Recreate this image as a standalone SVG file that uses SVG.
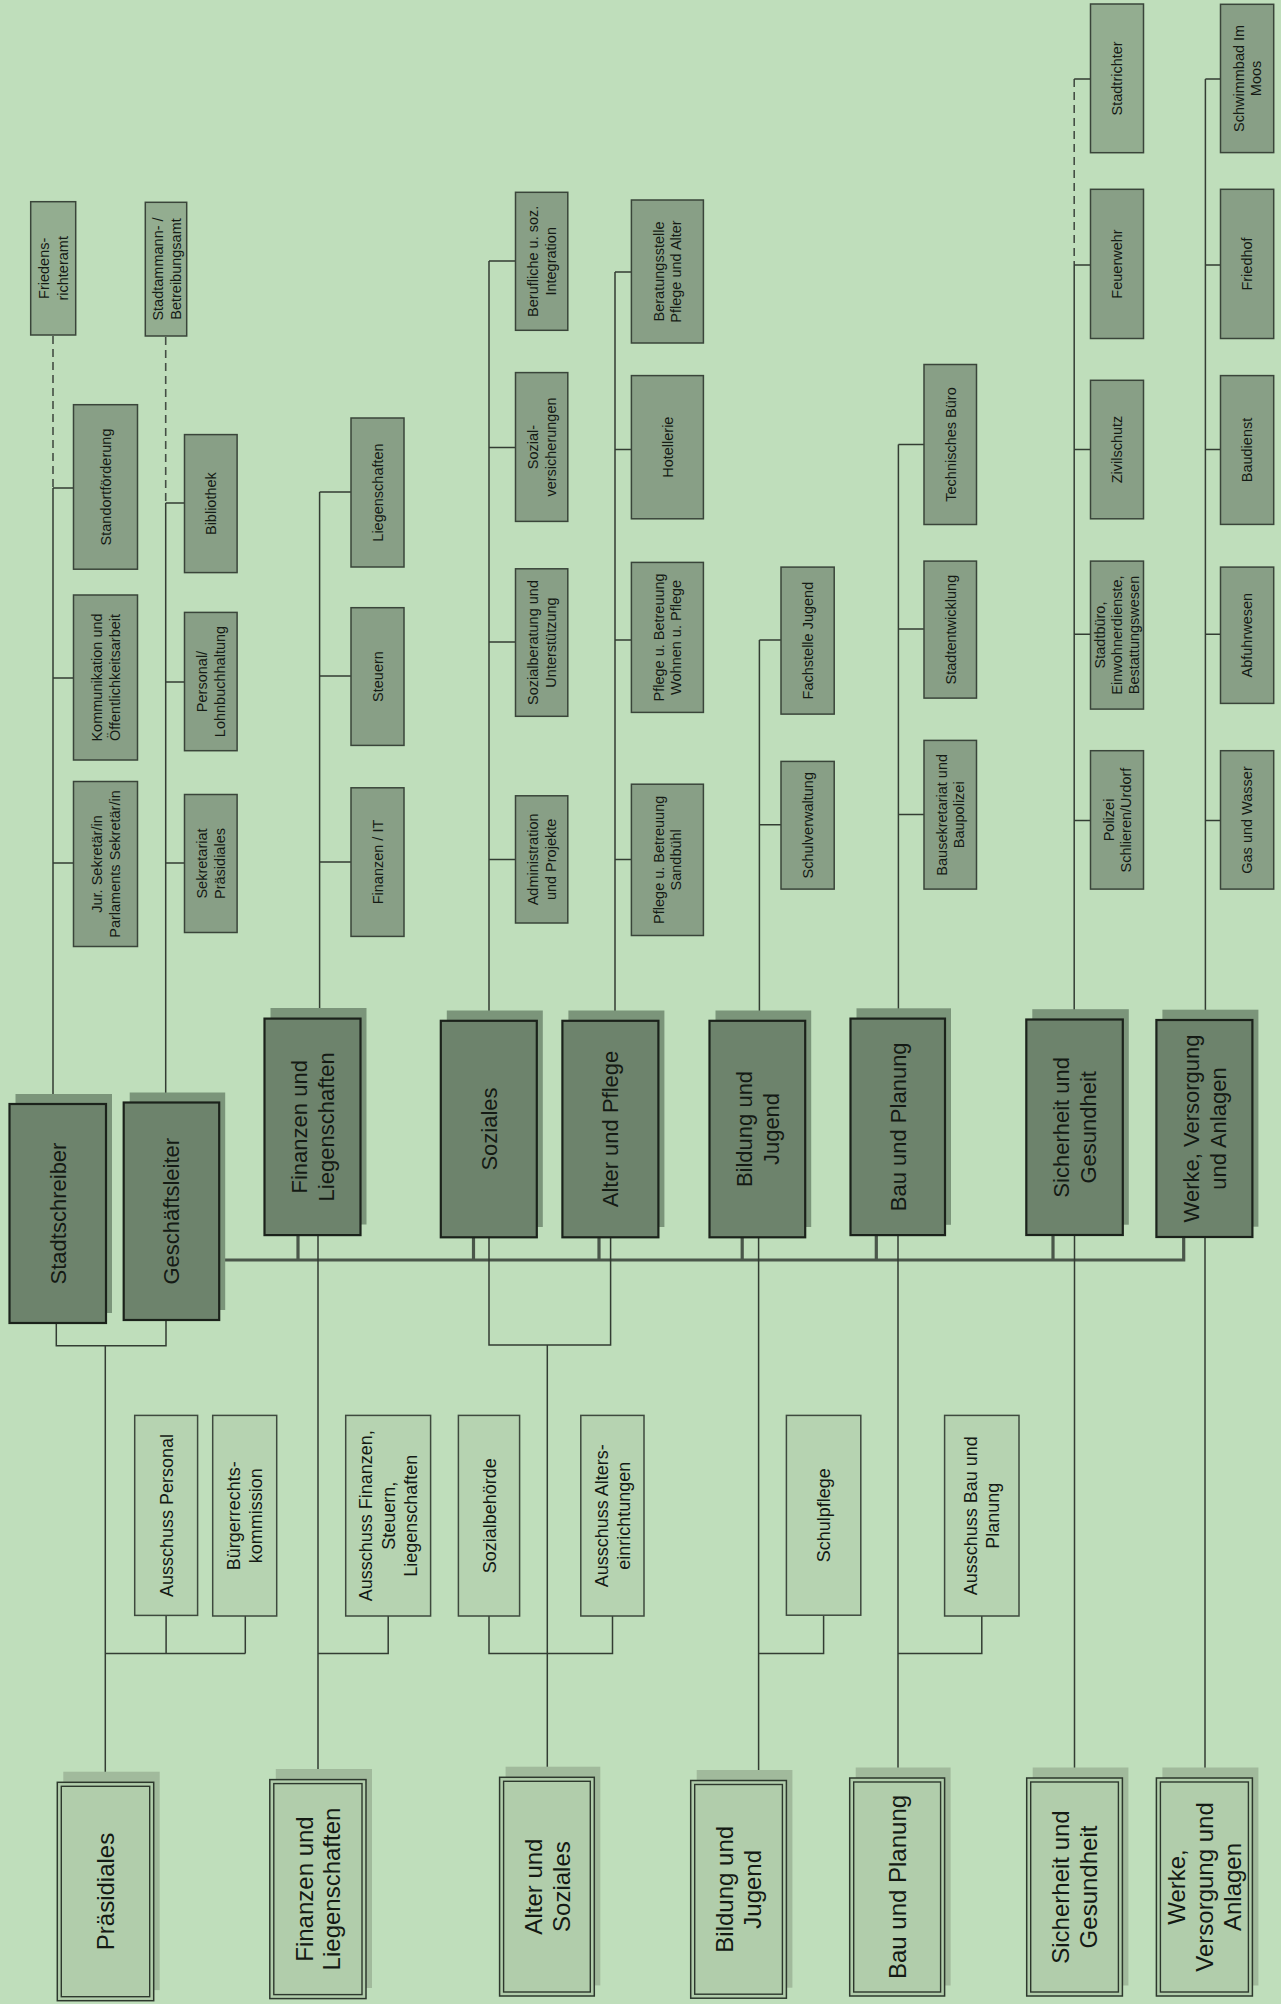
<svg xmlns="http://www.w3.org/2000/svg" width="1281" height="2004" viewBox="0 0 1281 2004">
<style>
text{font-family:"Liberation Sans",Arial,sans-serif;text-anchor:middle;fill:#141a14}
.s{font-size:14.5px}
.m{font-size:22px}
.b{font-size:24px}
.c{font-size:18px}
.sb{fill:#889f86;stroke:#3a453a;stroke-width:1.5}
.ext{fill:#93ad90;stroke:#3a453a;stroke-width:1.5}
.mb{fill:#6d836c;stroke:#1b221b;stroke-width:2.2}
.msh{fill:#7b957a}
.bb{fill:#b1cdab;stroke:#2d382d;stroke-width:1.5}
.bi{fill:none;stroke:#2d382d;stroke-width:1.4}
.bsh{fill:#a1ba9c}
.cb{fill:#b6d3b1;stroke:#3e4a3e;stroke-width:1.5}
.ln{fill:none;stroke:#333d33;stroke-width:1.5}
.dl{fill:none;stroke:#444e44;stroke-width:1.6;stroke-dasharray:8 5}
.bus{fill:none;stroke:#4a564a;stroke-width:3.2}
</style>
<rect width="1281" height="2004" fill="#bfdebb"/>

<g id="connectors">
  <!-- Stadtschreiber -->
  <path class="dl" d="M53 336V488"/>
  <path class="ln" d="M53 488V1104M53 488H73.5M53 678H73.5M53 863H73.5"/>
  <!-- Geschäftsleiter -->
  <path class="dl" d="M165.7 337V503"/>
  <path class="ln" d="M165.7 503V1102.5M165.7 503H184.5M165.7 682H184.5M165.7 863H184.5"/>
  <!-- Finanzen -->
  <path class="ln" d="M319.6 492V1018.6M319.6 492H351M319.6 676H351M319.6 862H351"/>
  <!-- Soziales -->
  <path class="ln" d="M489 261V1020.8M489 261H515.5M489 447.4H515.5M489 642H515.5M489 859.6H515.5"/>
  <!-- Alter und Pflege -->
  <path class="ln" d="M615 272V1020.8M615 272H631.4M615 449.6H631.4M615 640H631.4M615 859.6H631.4"/>
  <!-- Bildung -->
  <path class="ln" d="M759.4 640V1020.8M759.4 640H781M759.4 824.8H781"/>
  <!-- Bau -->
  <path class="ln" d="M898.4 444.4V1018.6M898.4 444.4H924M898.4 629H924M898.4 814.6H924"/>
  <!-- Sicherheit -->
  <path class="dl" d="M1074.2 79V265"/>
  <path class="ln" d="M1074.2 79H1090.5M1074.2 265V1019.5M1074.2 265H1090.5M1074.2 449.6H1090.5M1074.2 634.2H1090.5M1074.2 820.4H1090.5"/>
  <!-- Werke -->
  <path class="ln" d="M1205.4 79V1020M1205.4 79H1220.5M1205.4 265H1220.5M1205.4 449.6H1220.5M1205.4 634.2H1220.5M1205.4 820.4H1220.5"/>

  <!-- bus -->
  <path class="bus" d="M219 1260H1183.7V1237M298 1260V1235M473.5 1260V1237M599 1260V1237M742.2 1260V1237M876.3 1260V1235M1053 1260V1235"/>

  <!-- down to bottom -->
  <path class="ln" d="M56.3 1323V1345.8H166V1320.5M105.3 1345.8V1782.3"/>
  <path class="ln" d="M105.3 1653.4H245.3M166.1 1653.4V1615.8M245.3 1653.4V1616"/>
  <path class="ln" d="M318 1235V1779.6M318 1653.4H388.2V1616"/>
  <path class="ln" d="M489 1237V1345H610.6V1237M547.3 1345V1777.3"/>
  <path class="ln" d="M489 1616V1653.4H612.5V1616"/>
  <path class="ln" d="M758.6 1237V1780.5M758.6 1653.4H823.6V1616"/>
  <path class="ln" d="M898 1235V1778M898 1653.4H981.8V1616"/>
  <path class="ln" d="M1074.5 1235V1778"/>
  <path class="ln" d="M1205 1237V1778"/>
</g>

<!-- main chiefs & departments -->
<g id="n-stadtschreiber"><rect class="msh" x="15.5" y="1094" width="96.5" height="219"/><rect class="mb" x="9.5" y="1104" width="96.5" height="219"/>
<text class="m" transform="translate(57.7 1213.5) rotate(-90)"><tspan x="0" y="7.9">Stadtschreiber</tspan></text></g>
<g id="n-geschaeftsleiter"><rect class="msh" x="129.7" y="1092.5" width="95.5" height="217.5"/><rect class="mb" x="123.7" y="1102.5" width="95.5" height="217.5"/>
<text class="m" transform="translate(171.5 1211.2) rotate(-90)"><tspan x="0" y="7.9">Geschäftsleiter</tspan></text></g>
<g id="n-finanzen"><rect class="msh" x="270.5" y="1008" width="96" height="216.5"/><rect class="mb" x="264.5" y="1018.6" width="96" height="216.5"/>
<text class="m" transform="translate(312.5 1126.8) rotate(-90)"><tspan x="0" y="-5.3">Finanzen und</tspan><tspan x="0" y="21.2">Liegenschaften</tspan></text></g>
<g id="n-soziales"><rect class="msh" x="446.8" y="1010.5" width="96" height="216.5"/><rect class="mb" x="440.8" y="1020.8" width="96" height="216.5"/>
<text class="m" transform="translate(488.8 1129) rotate(-90)"><tspan x="0" y="7.9">Soziales</tspan></text></g>
<g id="n-alter-pflege"><rect class="msh" x="568.4" y="1010.5" width="96" height="216.5"/><rect class="mb" x="562.4" y="1020.8" width="96" height="216.5"/>
<text class="m" transform="translate(610.4 1129) rotate(-90)"><tspan x="0" y="7.9">Alter und Pflege</tspan></text></g>
<g id="n-bildung"><rect class="msh" x="715.5" y="1010.5" width="95.7" height="216.5"/><rect class="mb" x="709.5" y="1020.8" width="95.7" height="216.5"/>
<text class="m" transform="translate(757.4 1129) rotate(-90)"><tspan x="0" y="-5.3">Bildung und</tspan><tspan x="0" y="21.2">Jugend</tspan></text></g>
<g id="n-bau"><rect class="msh" x="856.5" y="1008.3" width="94.5" height="216.5"/><rect class="mb" x="850.5" y="1018.6" width="94.5" height="216.5"/>
<text class="m" transform="translate(897.7 1126.8) rotate(-90)"><tspan x="0" y="7.9">Bau und Planung</tspan></text></g>
<g id="n-sicherheit"><rect class="msh" x="1032.3" y="1009.2" width="96.5" height="215.5"/><rect class="mb" x="1026.3" y="1019.5" width="96.5" height="215.5"/>
<text class="m" transform="translate(1074.5 1127.3) rotate(-90)"><tspan x="0" y="-5.3">Sicherheit und</tspan><tspan x="0" y="21.2">Gesundheit</tspan></text></g>
<g id="n-werke"><rect class="msh" x="1162.4" y="1009.7" width="96" height="217"/><rect class="mb" x="1156.4" y="1020" width="96" height="217"/>
<text class="m" transform="translate(1204.4 1128.5) rotate(-90)"><tspan x="0" y="-5.3">Werke, Versorgung</tspan><tspan x="0" y="21.2">und Anlagen</tspan></text></g>

<!-- small units -->
<g id="n-friedensrichteramt"><rect class="ext" x="30.7" y="201.7" width="45" height="133.3"/>
<text class="s" transform="translate(53.2 268.3) rotate(-90)"><tspan x="0" y="-4">Friedens-</tspan><tspan x="0" y="15">richteramt</tspan></text></g>
<g id="n-stadtammann"><rect class="ext" x="145.3" y="202.3" width="41.4" height="133.7"/>
<text class="s" transform="translate(166 269) rotate(-90)"><tspan x="0" y="-3.5">Stadtammann- /</tspan><tspan x="0" y="14.5">Betreibungsamt</tspan></text></g>

<g id="n-standort"><rect class="sb" x="73.5" y="404.7" width="64" height="164.5"/>
<text class="s" transform="translate(105.5 487) rotate(-90)"><tspan x="0" y="5.2">Standortförderung</tspan></text></g>
<g id="n-kommunikation"><rect class="sb" x="73.5" y="595" width="64" height="165"/>
<text class="s" transform="translate(105.5 677.5) rotate(-90)"><tspan x="0" y="-3.5">Kommunikation und</tspan><tspan x="0" y="14">Öffentlichkeitsarbeit</tspan></text></g>
<g id="n-jur"><rect class="sb" x="73.5" y="781.5" width="64" height="165"/>
<text class="s" transform="translate(105.5 864) rotate(-90)"><tspan x="0" y="-3.5">Jur. Sekretär/in</tspan><tspan x="0" y="14">Parlaments Sekretär/in</tspan></text></g>

<g id="n-bibliothek"><rect class="sb" x="184.5" y="434.6" width="52.6" height="138"/>
<text class="s" transform="translate(210.8 503.6) rotate(-90)"><tspan x="0" y="5.2">Bibliothek</tspan></text></g>
<g id="n-personal"><rect class="sb" x="184.5" y="612.4" width="52.6" height="138.3"/>
<text class="s" transform="translate(210.8 681.5) rotate(-90)"><tspan x="0" y="-3.5">Personal/</tspan><tspan x="0" y="14">Lohnbuchhaltung</tspan></text></g>
<g id="n-sekretariat"><rect class="sb" x="184.5" y="794.5" width="52.6" height="138"/>
<text class="s" transform="translate(210.8 863.5) rotate(-90)"><tspan x="0" y="-3.5">Sekretariat</tspan><tspan x="0" y="14">Präsidiales</tspan></text></g>

<g id="n-liegenschaften"><rect class="sb" x="351" y="418" width="53" height="149"/>
<text class="s" transform="translate(377.5 492.5) rotate(-90)"><tspan x="0" y="5.2">Liegenschaften</tspan></text></g>
<g id="n-steuern"><rect class="sb" x="351" y="607.7" width="53" height="137.7"/>
<text class="s" transform="translate(377.5 676.5) rotate(-90)"><tspan x="0" y="5.2">Steuern</tspan></text></g>
<g id="n-finanzen-it"><rect class="sb" x="351" y="787.8" width="53" height="148.6"/>
<text class="s" transform="translate(377.5 862) rotate(-90)"><tspan x="0" y="5.2">Finanzen / IT</tspan></text></g>

<g id="n-berufliche"><rect class="sb" x="515.5" y="192.3" width="52.3" height="138"/>
<text class="s" transform="translate(541.6 261.3) rotate(-90)"><tspan x="0" y="-3.5">Berufliche u. soz.</tspan><tspan x="0" y="14">Integration</tspan></text></g>
<g id="n-sozialvers"><rect class="sb" x="515.5" y="372.6" width="52.3" height="148.8"/>
<text class="s" transform="translate(541.6 447) rotate(-90)"><tspan x="0" y="-3.5">Sozial-</tspan><tspan x="0" y="14">versicherungen</tspan></text></g>
<g id="n-sozialberatung"><rect class="sb" x="515.5" y="568.8" width="52.3" height="147.5"/>
<text class="s" transform="translate(541.6 642.5) rotate(-90)"><tspan x="0" y="-3.5">Sozialberatung und</tspan><tspan x="0" y="14">Unterstützung</tspan></text></g>
<g id="n-administration"><rect class="sb" x="515.5" y="795.8" width="52.3" height="127.2"/>
<text class="s" transform="translate(541.6 859.4) rotate(-90)"><tspan x="0" y="-3.5">Administration</tspan><tspan x="0" y="14">und Projekte</tspan></text></g>

<g id="n-beratungsstelle"><rect class="sb" x="631.4" y="200" width="72" height="143"/>
<text class="s" transform="translate(667.4 271.5) rotate(-90)"><tspan x="0" y="-3.5">Beratungsstelle</tspan><tspan x="0" y="14">Pflege und Alter</tspan></text></g>
<g id="n-hotellerie"><rect class="sb" x="631.4" y="375.6" width="72" height="143.2"/>
<text class="s" transform="translate(667.4 447.2) rotate(-90)"><tspan x="0" y="5.2">Hotellerie</tspan></text></g>
<g id="n-pflege-wohnen"><rect class="sb" x="631.4" y="562.4" width="72" height="150"/>
<text class="s" transform="translate(667.4 637.4) rotate(-90)"><tspan x="0" y="-3.5">Pflege u. Betreuung</tspan><tspan x="0" y="14">Wohnen u. Pflege</tspan></text></g>
<g id="n-pflege-sandbuehl"><rect class="sb" x="631.4" y="784.2" width="72" height="151.3"/>
<text class="s" transform="translate(667.4 859.8) rotate(-90)"><tspan x="0" y="-3.5">Pflege u. Betreuung</tspan><tspan x="0" y="14">Sandbühl</tspan></text></g>

<g id="n-fachstelle"><rect class="sb" x="781" y="567.1" width="53.2" height="147"/>
<text class="s" transform="translate(807.6 640.6) rotate(-90)"><tspan x="0" y="5.2">Fachstelle Jugend</tspan></text></g>
<g id="n-schulverwaltung"><rect class="sb" x="781" y="761.4" width="53.2" height="127.7"/>
<text class="s" transform="translate(807.6 825.2) rotate(-90)"><tspan x="0" y="5.2">Schulverwaltung</tspan></text></g>

<g id="n-technisches"><rect class="sb" x="924" y="364.5" width="52.5" height="160"/>
<text class="s" transform="translate(950.3 444.5) rotate(-90)"><tspan x="0" y="5.2">Technisches Büro</tspan></text></g>
<g id="n-stadtentwicklung"><rect class="sb" x="924" y="561.1" width="52.5" height="137"/>
<text class="s" transform="translate(950.3 629.6) rotate(-90)"><tspan x="0" y="5.2">Stadtentwicklung</tspan></text></g>
<g id="n-bausekretariat"><rect class="sb" x="924" y="740.4" width="52.5" height="148.7"/>
<text class="s" transform="translate(950.3 814.8) rotate(-90)"><tspan x="0" y="-3.5">Bausekretariat und</tspan><tspan x="0" y="14">Baupolizei</tspan></text></g>

<g id="n-stadtrichter"><rect class="ext" x="1090.5" y="4" width="53" height="148.7"/>
<text class="s" transform="translate(1117 78.4) rotate(-90)"><tspan x="0" y="5.2">Stadtrichter</tspan></text></g>
<g id="n-feuerwehr"><rect class="sb" x="1090.5" y="189.3" width="53" height="149.2"/>
<text class="s" transform="translate(1117 264) rotate(-90)"><tspan x="0" y="5.2">Feuerwehr</tspan></text></g>
<g id="n-zivilschutz"><rect class="sb" x="1090.5" y="380.3" width="53" height="138.5"/>
<text class="s" transform="translate(1117 449.5) rotate(-90)"><tspan x="0" y="5.2">Zivilschutz</tspan></text></g>
<g id="n-stadtbuero"><rect class="sb" x="1090.5" y="561.1" width="53" height="148"/>
<text class="s" transform="translate(1117 635) rotate(-90)"><tspan x="0" y="-12">Stadtbüro,</tspan><tspan x="0" y="5.2">Einwohnerdienste,</tspan><tspan x="0" y="22.4">Bestattungswesen</tspan></text></g>
<g id="n-polizei"><rect class="sb" x="1090.5" y="750.7" width="53" height="138.4"/>
<text class="s" transform="translate(1117 820) rotate(-90)"><tspan x="0" y="-3.5">Polizei</tspan><tspan x="0" y="14">Schlieren/Urdorf</tspan></text></g>

<g id="n-schwimmbad"><rect class="sb" x="1220.5" y="4.3" width="53.2" height="148.3"/>
<text class="s" transform="translate(1247.1 78.4) rotate(-90)"><tspan x="0" y="-3.5">Schwimmbad Im</tspan><tspan x="0" y="14">Moos</tspan></text></g>
<g id="n-friedhof"><rect class="sb" x="1220.5" y="189.3" width="53.2" height="149.2"/>
<text class="s" transform="translate(1247.1 264) rotate(-90)"><tspan x="0" y="5.2">Friedhof</tspan></text></g>
<g id="n-baudienst"><rect class="sb" x="1220.5" y="375.6" width="53.2" height="148.8"/>
<text class="s" transform="translate(1247.1 450) rotate(-90)"><tspan x="0" y="5.2">Baudienst</tspan></text></g>
<g id="n-abfuhrwesen"><rect class="sb" x="1220.5" y="567.1" width="53.2" height="136.3"/>
<text class="s" transform="translate(1247.1 635.2) rotate(-90)"><tspan x="0" y="5.2">Abfuhrwesen</tspan></text></g>
<g id="n-gas"><rect class="sb" x="1220.5" y="750.7" width="53.2" height="138.4"/>
<text class="s" transform="translate(1247.1 820) rotate(-90)"><tspan x="0" y="5.2">Gas und Wasser</tspan></text></g>

<!-- committees -->
<g id="n-ausschuss-personal"><rect class="cb" x="134.7" y="1415.4" width="62.9" height="200"/>
<text class="c" transform="translate(166.1 1515.5) rotate(-90)"><tspan x="0" y="6.5">Ausschuss Personal</tspan></text></g>
<g id="n-buergerrecht"><rect class="cb" x="212.7" y="1415.4" width="64" height="200.6"/>
<text class="c" transform="translate(244.7 1515.7) rotate(-90)"><tspan x="0" y="-4.7">Bürgerrechts-</tspan><tspan x="0" y="17.7">kommission</tspan></text></g>
<g id="n-ausschuss-finanzen"><rect class="cb" x="345.7" y="1415.4" width="84.9" height="200.6"/>
<text class="c" transform="translate(388.1 1515.7) rotate(-90)"><tspan x="0" y="-15.9">Ausschuss Finanzen,</tspan><tspan x="0" y="6.5">Steuern,</tspan><tspan x="0" y="28.9">Liegenschaften</tspan></text></g>
<g id="n-sozialbehoerde"><rect class="cb" x="458.4" y="1415.4" width="61.2" height="200.6"/>
<text class="c" transform="translate(489 1515.7) rotate(-90)"><tspan x="0" y="6.5">Sozialbehörde</tspan></text></g>
<g id="n-ausschuss-alters"><rect class="cb" x="580.8" y="1415.4" width="63.2" height="200.6"/>
<text class="c" transform="translate(612.4 1515.7) rotate(-90)"><tspan x="0" y="-4.7">Ausschuss Alters-</tspan><tspan x="0" y="17.7">einrichtungen</tspan></text></g>
<g id="n-schulpflege"><rect class="cb" x="786.4" y="1415.4" width="74.4" height="199.8"/>
<text class="c" transform="translate(823.6 1515.3) rotate(-90)"><tspan x="0" y="6.5">Schulpflege</tspan></text></g>
<g id="n-ausschuss-bau"><rect class="cb" x="944.6" y="1415.4" width="74.4" height="200.6"/>
<text class="c" transform="translate(981.8 1515.7) rotate(-90)"><tspan x="0" y="-4.7">Ausschuss Bau und</tspan><tspan x="0" y="17.7">Planung</tspan></text></g>

<!-- bottom political departments -->
<g id="n-b-praesidiales"><rect class="bsh" x="63.3" y="1771.7" width="96.4" height="218.4"/><rect class="bb" x="57.3" y="1782.3" width="96.4" height="218.4"/><rect class="bi" x="61.3" y="1786.3" width="88.4" height="210.4"/>
<text class="b" transform="translate(105.5 1891.5) rotate(-90)"><tspan x="0" y="8.6">Präsidiales</tspan></text></g>
<g id="n-b-finanzen"><rect class="bsh" x="275.8" y="1769" width="96.2" height="219"/><rect class="bb" x="269.8" y="1779.6" width="96.2" height="219"/><rect class="bi" x="273.8" y="1783.6" width="88.2" height="211"/>
<text class="b" transform="translate(317.9 1889) rotate(-90)"><tspan x="0" y="-5.4">Finanzen und</tspan><tspan x="0" y="22.6">Liegenschaften</tspan></text></g>
<g id="n-b-alter-soziales"><rect class="bsh" x="505.6" y="1766.7" width="94.7" height="218.7"/><rect class="bb" x="499.6" y="1777.3" width="94.7" height="218.7"/><rect class="bi" x="503.6" y="1781.3" width="86.7" height="210.7"/>
<text class="b" transform="translate(547 1886.6) rotate(-90)"><tspan x="0" y="-5.4">Alter und</tspan><tspan x="0" y="22.6">Soziales</tspan></text></g>
<g id="n-b-bildung"><rect class="bsh" x="696.7" y="1770" width="95.7" height="217.7"/><rect class="bb" x="690.7" y="1780.5" width="95.7" height="217.7"/><rect class="bi" x="694.7" y="1784.5" width="87.7" height="209.7"/>
<text class="b" transform="translate(738.5 1889.3) rotate(-90)"><tspan x="0" y="-5.4">Bildung und</tspan><tspan x="0" y="22.6">Jugend</tspan></text></g>
<g id="n-b-bau"><rect class="bsh" x="855.7" y="1767.5" width="94.9" height="218"/><rect class="bb" x="849.7" y="1778" width="94.9" height="218"/><rect class="bi" x="853.7" y="1782" width="86.9" height="210"/>
<text class="b" transform="translate(897.1 1887) rotate(-90)"><tspan x="0" y="8.6">Bau und Planung</tspan></text></g>
<g id="n-b-sicherheit"><rect class="bsh" x="1032.7" y="1767.5" width="95.7" height="218"/><rect class="bb" x="1026.7" y="1778" width="95.7" height="218"/><rect class="bi" x="1030.7" y="1782" width="87.7" height="210"/>
<text class="b" transform="translate(1074.5 1887) rotate(-90)"><tspan x="0" y="-5.4">Sicherheit und</tspan><tspan x="0" y="22.6">Gesundheit</tspan></text></g>
<g id="n-b-werke"><rect class="bsh" x="1162.4" y="1767.5" width="96" height="218"/><rect class="bb" x="1156.4" y="1778" width="96" height="218"/><rect class="bi" x="1160.4" y="1782" width="88" height="210"/>
<text class="b" transform="translate(1204.4 1887) rotate(-90)"><tspan x="0" y="-19.4">Werke,</tspan><tspan x="0" y="8.6">Versorgung und</tspan><tspan x="0" y="36.6">Anlagen</tspan></text></g>
</svg>
